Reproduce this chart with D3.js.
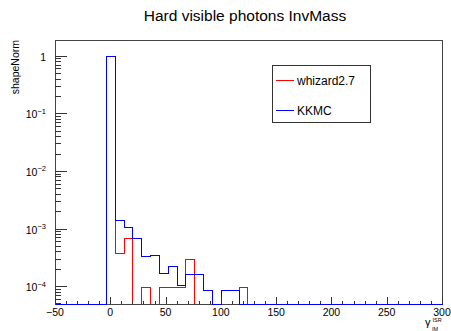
<!DOCTYPE html>
<html><head><meta charset="utf-8">
<script src="https://cdn.jsdelivr.net/npm/d3@7"></script>
<style>body{margin:0;background:#fff}svg{display:block;font-family:"Liberation Sans",Arial,Helvetica,sans-serif}</style>
</head><body><svg id="c" width="451" height="331"></svg>
<script>
// ---- data ----
const binStart = -52, binWidth = 8, nBins = 44;
const whizard = [0,0,0,0,0,0, 1, 3.8e-4, 6.8e-4, 0, 9.7e-5, 0, 9.7e-5, 9.7e-5, 9.7e-5, 2.92e-4, 0, 0, 0, 0, 0, 9.7e-5,
  0,0,0,0,0,0,0,0,0,0,0,0,0,0,0,0,0,0,0,0,0,0];
const kkmc = [0,0,0,0,0,0, 1, 1.41e-3, 1.05e-3, 6.8e-4, 3.33e-4, 3.5e-4, 1.71e-4, 2.26e-4, 1.04e-4, 1.62e-4, 1.62e-4, 8.6e-5, 0, 8.6e-5, 8.6e-5, 0,
  0,0,0,0,0,0,0,0,0,0,0,0,0,0,0,0,0,0,0,0,0,0];
const xTicks = [-50, 0, 50, 100, 150, 200, 250, 300];
const yTicks = [1, 1e-1, 1e-2, 1e-3, 1e-4];
const yTickExp = ["", "\u22121", "\u22122", "\u22123", "\u22124"];
const seriesNames = ["whizard2.7", "KKMC"];
const seriesColors = ["#ff0000", "#0000ff"];

// ---- layout ----
const L = 55, R = 442, T = 40, B = 304;
const svg = d3.select("#c");
const x = d3.scaleLinear().domain([-50, 300]).range([L, R]).clamp(true);
const y = d3.scaleLog().domain([4.89e-5, 1.873]).range([B, T]).clamp(true);

// title
svg.append("text").attr("x", 245).attr("y", 20.5).attr("text-anchor", "middle")
  .attr("font-size", 15.5).attr("fill", "#000").text("Hard visible photons InvMass");

function histPath(vals) {
  const pts = [[x(binStart), B]];
  vals.forEach((v, i) => {
    const yy = v > 0 ? y(v) : B;
    pts.push([x(binStart + i * binWidth), yy]);
    pts.push([x(binStart + (i + 1) * binWidth), yy]);
  });
  pts.push([x(binStart + nBins * binWidth), B]);
  return d3.line().x(d => Math.round(d[0]) + 0.5).y(d => Math.round(d[1]) + 0.5)(pts);
}

const g = svg.append("g");
g.append("path").attr("d", histPath(whizard)).attr("fill", "none")
  .attr("stroke", seriesColors[0]).attr("stroke-width", 1).attr("shape-rendering", "crispEdges");

// frame
svg.append("rect").attr("x", L + 0.5).attr("y", T + 0.5).attr("width", R - L).attr("height", B - T)
  .attr("fill", "none").attr("stroke", "#444").attr("stroke-width", 1).attr("shape-rendering", "crispEdges");

svg.append("path").attr("d", histPath(kkmc)).attr("fill", "none")
  .attr("stroke", seriesColors[1]).attr("stroke-width", 1).attr("shape-rendering", "crispEdges");

// x ticks
const ax = svg.append("g").attr("stroke", "#333").attr("shape-rendering", "crispEdges");
d3.range(-50, 301, 10).forEach(v => {
  const major = xTicks.includes(v);
  const xx = Math.round(x(v)) + 0.5;
  ax.append("line").attr("x1", xx).attr("x2", xx).attr("y1", B).attr("y2", B - (major ? 7 : 3.5));
});
xTicks.forEach(v => {
  svg.append("text").attr("x", x(v)).attr("y", 315.5).attr("text-anchor", "middle")
    .attr("font-size", 10.5).text(v < 0 ? "\u2212" + Math.abs(v) : v);
});

// y ticks
const [ymin, ymax] = y.domain();
for (let k = -5; k <= 0; k++) {
  for (let m = 1; m <= 9; m++) {
    const v = m * Math.pow(10, k);
    if (v < ymin || v > ymax) continue;
    const yy = Math.round(y(v)) + 0.5;
    ax.append("line").attr("x1", L).attr("x2", L + (m === 1 ? 12 : 6)).attr("y1", yy).attr("y2", yy);
  }
}
yTicks.forEach((v, i) => {
  const t = svg.append("text").attr("x", 46).attr("y", y(v) + 5).attr("text-anchor", "end").attr("font-size", 10.5);
  if (i === 0) { t.text("1"); }
  else {
    t.append("tspan").text("10");
    t.append("tspan").attr("font-size", 7.5).attr("dy", -4.5).text(yTickExp[i]);
  }
});

// axis titles
svg.append("text").attr("transform", "translate(19,40) rotate(-90)").attr("text-anchor", "end")
  .attr("font-size", 10.5).text("shapeNorm");
const xt = svg.append("g");
xt.append("text").attr("x", 425).attr("y", 326).attr("font-size", 11).text("\u03b3");
xt.append("text").attr("x", 432.5).attr("y", 321.5).attr("font-size", 5.5).text("ISR");
xt.append("text").attr("x", 432).attr("y", 330.5).attr("font-size", 5.5).text("IM");

// legend
const lg = svg.append("g");
lg.append("rect").attr("x", 272.5).attr("y", 65.5).attr("width", 97.5).attr("height", 57)
  .attr("fill", "#fff").attr("stroke", "#333").attr("shape-rendering", "crispEdges");
seriesNames.forEach((n, i) => {
  const yy = [80.5, 110.5][i];
  lg.append("line").attr("x1", 276).attr("x2", 293.5).attr("y1", yy).attr("y2", yy)
    .attr("stroke", seriesColors[i]).attr("shape-rendering", "crispEdges");
  lg.append("text").attr("x", 297).attr("y", yy + 4.3).attr("font-size", 12).text(n);
});
</script></body></html>
